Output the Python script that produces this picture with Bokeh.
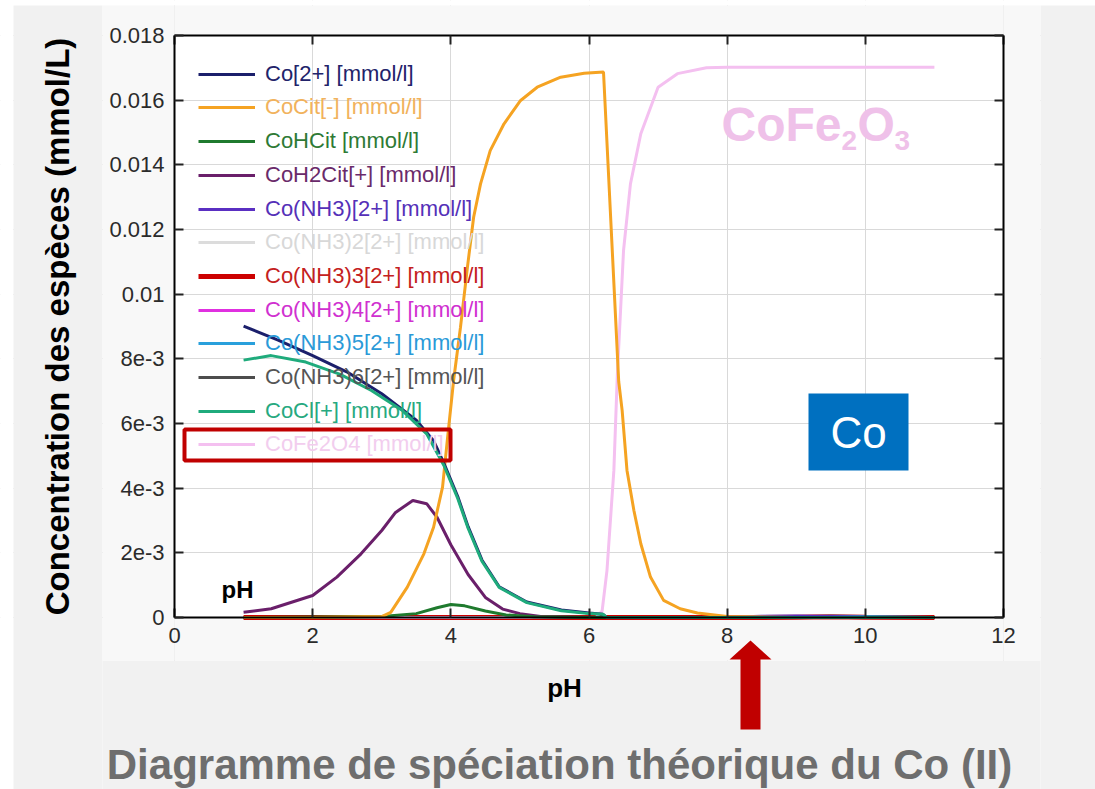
import math
from bokeh.plotting import figure
from bokeh.models import (Legend, LegendItem, LinearAxis, FixedTicker, BoxAnnotation,
                          PolyAnnotation, Label, Range1d)
from bokeh.embed import file_html
from bokeh.resources import INLINE

# ---------------- data ----------------
x_ticks = [0, 2, 4, 6, 8, 10, 12]
y_ticks = [0, 0.002, 0.004, 0.006, 0.008, 0.010, 0.012, 0.014, 0.016, 0.018]
y_tick_labels = ["0", "2e-3", "4e-3", "6e-3", "8e-3", "0.01", "0.012", "0.014", "0.016", "0.018"]

ph_co2 = [1.0, 1.5, 2.0, 2.5, 3.0, 3.5, 3.75, 3.9, 4.1, 4.25, 4.45, 4.7, 5.1, 5.6, 6.0, 6.2, 6.25, 7, 8, 9, 10, 11]
c_co2 = [0.00901, 0.00858, 0.00810, 0.00759, 0.00692, 0.00610, 0.00547, 0.00477, 0.00374, 0.00281, 0.00178,
         0.00095, 0.00048, 0.00023, 0.00014, 0.00010, 0.00001, 0, 0, 0, 0, 0]

ph_cocl = [1.0, 1.4, 1.9, 2.4, 2.85, 3.3, 3.65, 3.9, 4.1, 4.25, 4.45, 4.7, 5.1, 5.6, 6.0, 6.2, 6.25, 7, 8, 9, 10, 11]
c_cocl = [0.00796, 0.00810, 0.00790, 0.00752, 0.00702, 0.00640, 0.00568, 0.00470, 0.00368, 0.00276, 0.00174,
          0.00093, 0.00046, 0.00021, 0.00012, 0.00010, 0.00001, 0, 0, 0, 0, 0]

ph_coh2cit = [1.0, 1.4, 2.0, 2.35, 2.7, 3.0, 3.2, 3.45, 3.65, 3.8, 4.0, 4.25, 4.5, 4.75, 5.0, 5.3, 6, 7, 8, 9, 10, 11]
c_coh2cit = [0.00016, 0.00027, 0.00068, 0.00125, 0.00197, 0.00269, 0.00325, 0.00362, 0.00352, 0.00310,
             0.00225, 0.00133, 0.00062, 0.00026, 0.00012, 0.00003, 0, 0, 0, 0, 0, 0]

ph_cocit = [1.0, 2.0, 3.0, 3.13, 3.37, 3.61, 3.75, 3.88, 3.95, 4.04, 4.14, 4.24, 4.33, 4.43, 4.57, 4.77, 5.01,
            5.25, 5.59, 5.93, 6.21, 6.43, 6.48, 6.55, 6.65, 6.75, 6.89, 7.08, 7.32, 7.57, 8.0, 9, 10, 11]
c_cocit = [0, 0, 0.00003, 0.00016, 0.00094, 0.00197, 0.00279, 0.00403, 0.00550, 0.00733, 0.00898, 0.01083,
           0.01238, 0.01341, 0.01444, 0.01527, 0.01599, 0.01640, 0.01671, 0.01683, 0.01687, 0.00730, 0.00640,
           0.00455, 0.00331, 0.00228, 0.00125, 0.00053, 0.00027, 0.00014, 0.00003, 0, 0, 0]

ph_cohcit = [1, 3.0, 3.5, 3.8, 4.0, 4.2, 4.5, 4.8, 5.2, 6, 7, 8, 9, 10, 11]
c_cohcit = [0, 0.00003, 0.00012, 0.00030, 0.00040, 0.00036, 0.00020, 0.00008, 0.00002, 0, 0, 0, 0, 0, 0]

ph_cofe2o4 = [1.0, 6.1, 6.19, 6.26, 6.36, 6.41, 6.5, 6.6, 6.75, 7.0, 7.28, 7.7, 8.0, 9, 10, 11]
c_cofe2o4 = [0, 0, 0.0002, 0.00145, 0.00455, 0.0075, 0.01135, 0.01341, 0.01496, 0.01640, 0.01682, 0.01700,
             0.01702, 0.01702, 0.01702, 0.01702]

ph_nh3 = [1, 2, 3, 4, 5, 6, 7, 8, 8.5, 9, 9.5, 10, 11]
c_conh3_1 = [0, 0, 0, 0, 0, 0, 0, 0.00001, 0.00004, 0.00005, 0.00003, 0.00001, 0]
c_conh3_2 = [0, 0, 0, 0, 0, 0, 0, 0, 0.00001, 0.00003, 0.00004, 0.00002, 0]
c_conh3_3 = [0, 0, 0, 0, 0, 0, 0, 0, 0, 0.00001, 0.00002, 0.00001, 0]
c_conh3_4 = [0, 0, 0, 0, 0, 0, 0, 0, 0, 0, 0.00001, 0.00001, 0]
c_conh3_5 = [0, 0, 0, 0, 0, 0, 0, 0, 0, 0.00002, 0.00004, 0.00003, 0]
c_conh3_6 = [0, 0, 0, 0, 0, 0, 0, 0, 0, 0, 0, 0.00001, 0]

series_names = ["Co[2+] [mmol/l]", "CoCit[-] [mmol/l]", "CoHCit [mmol/l]", "CoH2Cit[+] [mmol/l]",
                "Co(NH3)[2+] [mmol/l]", "Co(NH3)2[2+] [mmol/l]", "Co(NH3)3[2+] [mmol/l]",
                "Co(NH3)4[2+] [mmol/l]", "Co(NH3)5[2+] [mmol/l]", "Co(NH3)6[2+] [mmol/l]",
                "CoCl[+] [mmol/l]", "CoFe2O4 [mmol/l]"]
series_x = [ph_co2, ph_cocit, ph_cohcit, ph_coh2cit, ph_nh3, ph_nh3, ph_nh3, ph_nh3, ph_nh3, ph_nh3,
            ph_cocl, ph_cofe2o4]
series_y = [c_co2, c_cocit, c_cohcit, c_coh2cit, c_conh3_1, c_conh3_2, c_conh3_3, c_conh3_4, c_conh3_5,
            c_conh3_6, c_cocl, c_cofe2o4]

# ---------------- styles / layout ----------------
line_colors = ["#1b1f6b", "#f5a322", "#1f7a2e", "#6a1f6a", "#5a2fc2", "#dcdcdc", "#cc0000", "#e030e0",
               "#29a0dc", "#4d4d4d", "#1fab7c", "#f4c0f0"]
text_colors = ["#22236a", "#f1b25c", "#2e7a35", "#6a2a6a", "#5530b8", "#d8d8d8", "#c42020", "#d030d0",
               "#2a9ad8", "#555555", "#27a980", "#f2cdee"]
line_widths = [3, 3, 3, 3, 3, 3, 5, 3, 3, 3, 3, 3]
draw_order = [5, 6, 7, 8, 9, 4, 11, 3, 2, 1, 0, 10]

FONT = "Liberation Sans"
SLIDE_BG = "#f1f1f1"
IMG_BG = "#f8f8f8"
W, H = 1095, 789
PX_X0, PX_PER_X = 174.0, 829.0 / 12     # pixel of pH 0 and pixels per pH unit
PX_Y0, PX_PER_Y = 617.0, 582.0 / 0.018  # pixel of c = 0 and pixels per mmol/L


def dx(px):
    return (px - PX_X0) / PX_PER_X


def dy(py):
    return (PX_Y0 - py) / PX_PER_Y


# the frame covers the whole canvas; the visible plot box is drawn by fixed axes
p = figure(width=W, height=H, x_range=Range1d(dx(0), dx(W)), y_range=Range1d(dy(H), dy(0)),
           output_backend="svg", toolbar_location=None,
           min_border_left=0, min_border_right=0, min_border_top=0, min_border_bottom=0,
           background_fill_color="white", border_fill_color=SLIDE_BG, outline_line_color=None)

xt = FixedTicker(ticks=x_ticks)
yt = FixedTicker(ticks=y_ticks)
p.xgrid.ticker = xt
p.ygrid.ticker = yt
p.grid.grid_line_color = "#d9d9d9"
p.grid.grid_line_width = 1

# backgrounds outside the plot box (drawn over the grid lines, under the curves)
for kw, col in (
        (dict(right=dx(13)), "white"),
        (dict(bottom=dy(5)), "white"),
        (dict(left=dx(13), right=dx(102), top=dy(5)), SLIDE_BG),
        (dict(left=dx(1040), top=dy(5)), SLIDE_BG),
        (dict(left=dx(102), right=dx(1040), top=dy(660)), SLIDE_BG),
        (dict(left=dx(102), right=0, top=dy(5), bottom=dy(660)), IMG_BG),
        (dict(left=12, right=dx(1040), top=dy(5), bottom=dy(660)), IMG_BG),
        (dict(left=0, right=12, top=dy(5), bottom=0.018), IMG_BG),
        (dict(left=0, right=12, top=0, bottom=dy(660)), IMG_BG)):
    p.add_layout(BoxAnnotation(fill_color=col, fill_alpha=1, line_color=None, level="underlay", **kw))


def style_axis(ax, labels=True):
    ax.major_tick_in = 9
    ax.major_tick_out = 0
    ax.minor_tick_line_color = None
    ax.major_tick_line_color = "#222222"
    ax.major_tick_line_width = 2
    ax.axis_line_color = "black"
    ax.axis_line_width = 2
    ax.major_label_text_font = FONT
    ax.major_label_text_font_size = "22px" if labels else "0px"
    ax.major_label_text_color = "#2b2b2b"
    ax.major_label_standoff = 10


xa = p.xaxis[0]
ya = p.yaxis[0]
xa.ticker = xt
ya.ticker = yt
xa.fixed_location = 0
ya.fixed_location = 0
xa.bounds = (0, 12)
ya.bounds = (0, 0.018)
ya.major_label_overrides = dict(zip(y_ticks, y_tick_labels))
style_axis(xa)
style_axis(ya)

top_ax = LinearAxis(ticker=xt, fixed_location=0.018, bounds=(0, 12),
                    major_label_overrides={t: "" for t in x_ticks})
right_ax = LinearAxis(ticker=yt, fixed_location=12, bounds=(0, 0.018),
                      major_label_overrides={t: "" for t in y_ticks})
style_axis(top_ax, labels=False)
style_axis(right_ax, labels=False)
p.add_layout(top_ax, "above")
p.add_layout(right_ax, "right")

# curves
renderers = {}
for i in draw_order:
    renderers[i] = p.line(series_x[i], series_y[i], line_color=line_colors[i], line_width=line_widths[i])

# legend: one small legend per entry so each label keeps its own colour
for i, name in enumerate(series_names):
    yc = 76.7 + i * 33.7
    lg = Legend(items=[LegendItem(label=name, renderers=[renderers[i]])],
                location=(198, H - (yc + 10)),
                glyph_width=57, glyph_height=20, label_height=20, label_standoff=10,
                padding=0, margin=0, spacing=0,
                background_fill_alpha=0, border_line_color=None,
                label_text_font=FONT, label_text_font_size="22px",
                label_text_color=text_colors[i])
    p.add_layout(lg)

# red highlight box around the CoFe2O4 entry
p.add_layout(BoxAnnotation(left=dx(184), right=dx(450), top=dy(429), bottom=dy(460),
                           fill_alpha=0, line_color="#c00000", line_alpha=1, line_width=4))

# blue "Co" box
p.add_layout(BoxAnnotation(left=dx(808), right=dx(908), top=dy(393), bottom=dy(470),
                           fill_color="#0070c0", fill_alpha=1, line_color=None))
p.add_layout(Label(x=dx(858), y=dy(432), text="Co", text_color="white", text_font=FONT,
                   text_font_size="44px", text_align="center", text_baseline="middle"))

# CoFe2O3 annotation with subscripts
PINK = "#efc1e9"
for txt, ox, oy, fs in (("CoFe", 0, 0, "48px"), ("2", 120, -16, "28px"),
                        ("O", 136, 0, "48px"), ("3", 173, -16, "28px")):
    p.add_layout(Label(x=dx(721), y=dy(124), x_offset=ox, y_offset=oy, text=txt, text_color=PINK,
                       text_font=FONT, text_font_style="bold", text_font_size=fs,
                       text_align="left", text_baseline="middle"))

# "pH" inside the plot
p.add_layout(Label(x=dx(221), y=dy(589), text="pH", text_color="black", text_font=FONT,
                   text_font_style="bold", text_font_size="24px", text_baseline="middle"))

# axis titles
p.add_layout(Label(x=dx(57), y=dy(326), angle=math.pi / 2, text="Concentration des espèces (mmol/L)",
                   text_color="black", text_font=FONT, text_font_style="bold", text_font_size="33px",
                   text_align="center", text_baseline="middle"))
p.add_layout(Label(x=dx(564), y=dy(687), text="pH", text_color="black", text_font=FONT,
                   text_font_style="bold", text_font_size="26px", text_align="center",
                   text_baseline="middle"))

# red arrow pointing at pH ~8.3
cx = dx(750)
p.add_layout(PolyAnnotation(
    xs=[cx, dx(771), dx(760), dx(760), dx(740), dx(740), dx(729)],
    ys=[dy(640), dy(659), dy(659), dy(729), dy(729), dy(659), dy(659)],
    fill_color="#c00000", fill_alpha=1, line_color=None))

# caption
p.add_layout(Label(x=dx(559), y=dy(764), text="Diagramme de spéciation théorique du Co (II)",
                   text_color="#6e6e6e", text_font=FONT, text_font_style="bold",
                   text_font_size="42px", text_align="center", text_baseline="middle"))

open("out.html", "w").write(file_html(p, INLINE))
